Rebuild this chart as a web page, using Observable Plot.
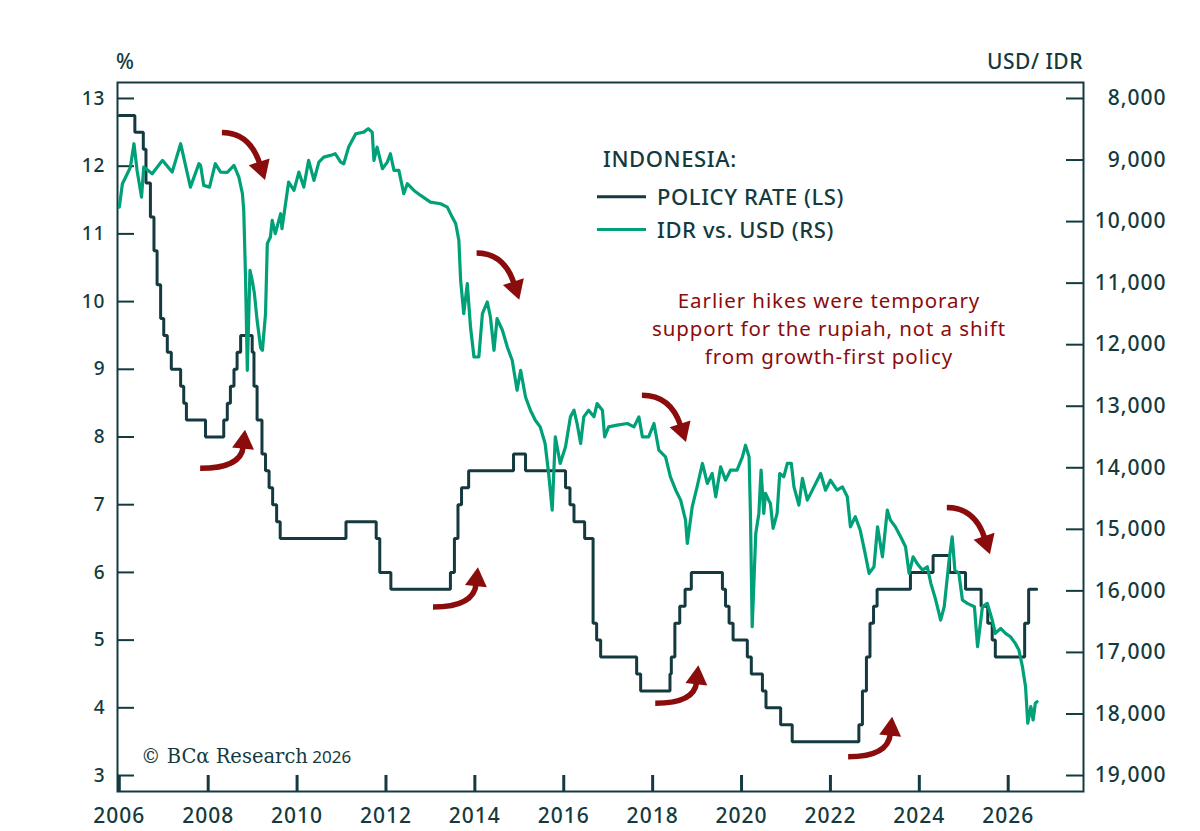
<!DOCTYPE html>
<html><head><meta charset="utf-8">
<script src="https://cdn.jsdelivr.net/npm/d3@7"></script>
<script src="https://cdn.jsdelivr.net/npm/@observablehq/plot@0.6"></script>
<style>
body{margin:0;background:#fff;}
#wrap{position:relative;width:1200px;height:831px;}
</style></head><body><div id="wrap"></div>
<script>
// ---- Data ----
const policyDates = [2006.00,2006.35,2006.54,2006.60,2006.70,2006.78,2006.85,2006.93,2007.00,2007.08,2007.17,2007.38,2007.45,2007.51,2007.94,2008.35,2008.43,2008.50,2008.58,2008.65,2008.73,2008.99,2009.03,2009.10,2009.21,2009.29,2009.37,2009.45,2009.54,2009.62,2011.10,2011.78,2011.86,2012.11,2013.45,2013.54,2013.62,2013.70,2013.86,2014.87,2015.14,2016.04,2016.14,2016.23,2016.47,2016.66,2016.74,2016.83,2017.64,2017.73,2018.39,2018.42,2018.50,2018.61,2018.73,2018.87,2019.57,2019.64,2019.72,2019.81,2020.13,2020.22,2020.47,2020.55,2020.88,2021.14,2022.64,2022.72,2022.81,2022.89,2022.97,2023.05,2023.80,2024.31,2024.68,2025.04,2025.39,2025.54,2025.64,2025.71,2026.37,2026.46,2026.64];
const policyRates = [12.75,12.50,12.25,11.75,11.25,10.75,10.25,9.75,9.50,9.25,9.00,8.75,8.50,8.25,8.00,8.25,8.50,8.75,9.00,9.25,9.50,9.25,8.75,8.25,7.75,7.50,7.25,7.00,6.75,6.50,6.75,6.50,6.00,5.75,6.00,6.50,7.00,7.25,7.50,7.75,7.50,7.25,7.00,6.75,6.50,5.25,5.00,4.75,4.50,4.25,4.50,4.75,5.25,5.50,5.75,6.00,5.75,5.50,5.25,5.00,4.75,4.50,4.25,4.00,3.75,3.50,3.75,4.25,4.75,5.25,5.50,5.75,6.00,6.25,6.00,5.75,5.50,5.25,5.00,4.75,5.25,5.75,5.75];

const idrDates = [2006.00,2006.07,2006.18,2006.25,2006.33,2006.40,2006.50,2006.55,2006.74,2006.97,2007.19,2007.38,2007.60,2007.79,2007.83,2007.90,2008.03,2008.16,2008.28,2008.43,2008.58,2008.69,2008.77,2008.80,2008.84,2008.88,2008.94,2008.99,2009.04,2009.10,2009.18,2009.22,2009.29,2009.33,2009.40,2009.44,2009.51,2009.63,2009.66,2009.74,2009.81,2009.93,2010.04,2010.15,2010.26,2010.38,2010.49,2010.60,2010.75,2010.86,2010.98,2011.05,2011.16,2011.32,2011.50,2011.60,2011.69,2011.73,2011.80,2011.92,2012.03,2012.10,2012.18,2012.29,2012.40,2012.48,2012.63,2012.78,2013.00,2013.23,2013.38,2013.49,2013.57,2013.64,2013.68,2013.75,2013.83,2013.90,2013.98,2014.09,2014.17,2014.28,2014.35,2014.43,2014.50,2014.62,2014.73,2014.84,2014.95,2015.03,2015.14,2015.25,2015.36,2015.47,2015.58,2015.66,2015.74,2015.81,2015.92,2016.04,2016.15,2016.23,2016.30,2016.38,2016.45,2016.56,2016.68,2016.75,2016.87,2016.92,2017.01,2017.20,2017.43,2017.58,2017.69,2017.77,2017.91,2018.03,2018.14,2018.29,2018.40,2018.52,2018.63,2018.74,2018.78,2018.89,2019.00,2019.12,2019.23,2019.34,2019.42,2019.53,2019.64,2019.75,2019.90,2020.02,2020.09,2020.17,2020.20,2020.24,2020.32,2020.39,2020.44,2020.50,2020.54,2020.61,2020.65,2020.71,2020.80,2020.86,2020.95,2021.03,2021.12,2021.18,2021.29,2021.37,2021.48,2021.63,2021.78,2021.89,2022.00,2022.15,2022.27,2022.38,2022.45,2022.56,2022.67,2022.78,2022.87,2022.98,2023.06,2023.17,2023.28,2023.35,2023.46,2023.58,2023.69,2023.77,2023.86,2023.95,2024.07,2024.18,2024.26,2024.37,2024.48,2024.56,2024.67,2024.74,2024.80,2024.89,2024.97,2025.08,2025.24,2025.31,2025.42,2025.53,2025.64,2025.71,2025.83,2025.94,2026.05,2026.16,2026.24,2026.32,2026.39,2026.44,2026.51,2026.56,2026.61,2026.65];
const idrValues = [9765,9385,9222,9115,8735,9169,9602,9115,9222,9006,9196,8735,9440,9060,9088,9412,9440,9060,9196,9200,9088,9277,9547,9818,10900,12416,10792,10955,11170,11600,12050,12091,11495,10359,10250,9981,10197,9872,10116,9710,9358,9494,9196,9440,9006,9331,9034,8953,8925,8898,9034,9060,8790,8573,8547,8492,8547,9006,8790,9141,9034,8898,9169,9169,9547,9385,9494,9575,9683,9710,9765,9927,10035,10305,10955,11495,11008,11700,12200,12200,11495,11306,11550,12091,11577,11766,12037,12253,12740,12416,12849,13065,13227,13336,13606,14093,14688,13498,13930,13660,13173,13065,13281,13606,13173,13065,13173,12957,13065,13498,13336,13308,13281,13336,13173,13498,13498,13281,13714,13823,14148,14364,14526,14851,15229,14635,14310,13930,14255,14093,14472,13985,14201,14039,14039,13823,13633,13823,14742,16583,15067,14742,14039,14742,14417,14526,14580,14985,14742,14093,14147,13930,13930,14310,14607,14173,14526,14310,14093,14364,14201,14364,14310,14472,14959,14796,15013,15391,15716,15608,14959,15446,14688,14851,14959,15121,15284,15716,15446,15554,15662,15608,15878,16149,16474,16258,15500,15121,15662,15716,16149,16203,16258,16907,16258,16203,16474,16690,16609,16690,16745,16853,16961,17232,17556,18151,17881,18097,17826,17800];

const leftTicks = [3,4,5,6,7,8,9,10,11,12,13];
const rightTicks = [8000,9000,10000,11000,12000,13000,14000,15000,16000,17000,18000,19000];
const yearTicks = [2006,2008,2010,2012,2014,2016,2018,2020,2022,2024,2026];

const legendTitle = "INDONESIA:";
const legendLabels = ["POLICY RATE (LS)", "IDR vs. USD (RS)"];
const noteLines = ["Earlier hikes were temporary", "support for the rupiah, not a shift", "from growth-first policy"];

// arrows: tail [year, rate], tip [year, rate], kind
const arrowTails = [[2008.32,12.49],[2007.83,7.53],[2013.07,5.48],[2014.05,10.71],[2017.77,8.61],[2018.07,4.06],[2022.41,3.27],[2024.63,6.95]];
const arrowTips  = [[2009.29,11.79],[2008.84,8.10],[2014.08,6.07],[2015.01,10.02],[2018.76,7.92],[2019.04,4.62],[2023.40,3.86],[2025.60,6.26]];
const arrowKinds = ["down","up","up","down","down","up","up","down"];

// ---- Styles ----
const dark = "#143a40";
const green = "#00a078";
const red = "#8b0c0c";
const sans = "'Noto Sans', sans-serif";

const toRate = v => 13 - (v - 8000) / 1100;
const fromRate = r => Math.round(((13 - r) * 1100 + 8000) / 100) * 100;

const policy = policyDates.map((d, i) => ({x: d, y: policyRates[i]}));
const idr = idrDates.map((d, i) => ({x: d, y: toRate(idrValues[i])}));

const W = 1200, H = 831, mL = 117, mR = 117, mT = 82, mB = 40;
const innerW = W - mL - mR, innerH = H - mT - mB;

const plot = Plot.plot({
  width: W, height: H,
  marginLeft: mL, marginRight: mR, marginTop: mT, marginBottom: mB,
  style: {fontFamily: sans, background: "white", color: dark, overflow: "visible"},
  x: {domain: [2005.9595, 2027.694]},
  y: {domain: [2.764, 13.236]},
  marks: [
    Plot.frame({stroke: dark, strokeWidth: 2}),
    Plot.tickY(leftTicks, {y: d => d, stroke: dark, strokeWidth: 2, insetRight: innerW - 17}),
    Plot.tickY(rightTicks.map(toRate), {y: d => d, stroke: dark, strokeWidth: 2, insetLeft: innerW - 17}),
    Plot.tickX(yearTicks, {x: d => d, stroke: dark, strokeWidth: 3, insetTop: innerH - 16}),
    Plot.axisY(leftTicks, {anchor: "left", tickSize: 0, tickPadding: 12, tickFormat: d => String(d), fontSize: 19, fontWeight: 500, fill: dark, label: null}),
    Plot.axisY(rightTicks.map(toRate), {anchor: "right", tickSize: 0, tickPadding: 83, textAnchor: "end", tickFormat: r => d3.format(",")(fromRate(r)), fontSize: 21, fontWeight: 500, fill: dark, label: null}),
    Plot.axisX(yearTicks, {anchor: "bottom", tickSize: 0, tickPadding: 17, tickFormat: d => String(d), fontSize: 21, fontWeight: 500, fill: dark, label: null}),
    Plot.line(policy, {x: "x", y: "y", curve: "step-after", stroke: dark, strokeWidth: 3, strokeLinejoin: "miter"}),
    Plot.line(idr, {x: "x", y: "y", stroke: green, strokeWidth: 3.2, strokeLinejoin: "round"})
  ]
});

document.getElementById("wrap").appendChild(plot);
const svg = d3.select(plot);
svg.selectAll('g[aria-label="x-axis tick label"], g[aria-label="y-axis tick label"]').attr("letter-spacing", "1px");

const sx = plot.scale("x"), sy = plot.scale("y");

// arrows
const ag = svg.append("g").attr("aria-label", "arrows");
arrowTails.forEach((t, i) => {
  const T = [sx.apply(t[0]), sy.apply(t[1])];
  const P = [sx.apply(arrowTips[i][0]), sy.apply(arrowTips[i][1])];
  const ang = arrowKinds[i] === "down" ? 72 * Math.PI / 180 : -84 * Math.PI / 180;
  const u = [Math.cos(ang), Math.sin(ang)];
  const L = 19, Wd = 22;
  const B = [P[0] - L * u[0], P[1] - L * u[1]];
  const s = (B[1] - T[1]) / u[1];
  const C = [B[0] - s * u[0], T[1]];
  const n = [-u[1], u[0]];
  ag.append("path").attr("d", `M${T}Q${C} ${B[0] + u[0]*2},${B[1] + u[1]*2}`)
    .attr("fill", "none").attr("stroke", red).attr("stroke-width", 5.5);
  ag.append("path").attr("d", `M${P}L${B[0] + n[0]*Wd/2},${B[1] + n[1]*Wd/2}L${B[0] - n[0]*Wd/2},${B[1] - n[1]*Wd/2}Z`)
    .attr("fill", red);
});

// titles
const tg = svg.append("g").attr("font-family", sans).attr("fill", dark).attr("font-weight", 500).attr("text-anchor", "start");
tg.append("text").attr("x", 116).attr("y", 69).attr("font-size", 21).text("%");
tg.append("text").attr("x", 1083).attr("y", 69).attr("font-size", 21).attr("letter-spacing", "0.5px").attr("text-anchor", "end").text("USD/ IDR");

// legend
tg.append("text").attr("x", 603).attr("y", 167).attr("font-size", 22).attr("letter-spacing", "0.6px").text(legendTitle);
[[dark, 196.7, 204.5], [green, 229.5, 238]].forEach(([c, ly, by], i) => {
  tg.append("line").attr("x1", 597).attr("x2", 646).attr("y1", ly).attr("y2", ly).attr("stroke", c).attr("stroke-width", 3);
  tg.append("text").attr("x", 657).attr("y", by).attr("font-size", 22).attr("letter-spacing", "0.6px").text(legendLabels[i]);
});

// annotation
const ng = svg.append("g").attr("font-family", sans).attr("fill", red).attr("font-size", 20.5)
  .attr("letter-spacing", "0.9px").attr("text-anchor", "middle");
noteLines.forEach((l, i) => ng.append("text").attr("x", 829).attr("y", 308 + i * 28).text(l));

// copyright
const cp = svg.append("text").attr("x", 141).attr("y", 763).attr("fill", dark).attr("text-anchor", "start");
cp.append("tspan").attr("font-family", "'DejaVu Serif', serif").attr("font-size", 19.5).text("© BCα Research");
cp.append("tspan").attr("font-family", sans).attr("font-size", 17).text(" 2026");
</script>
</body></html>
